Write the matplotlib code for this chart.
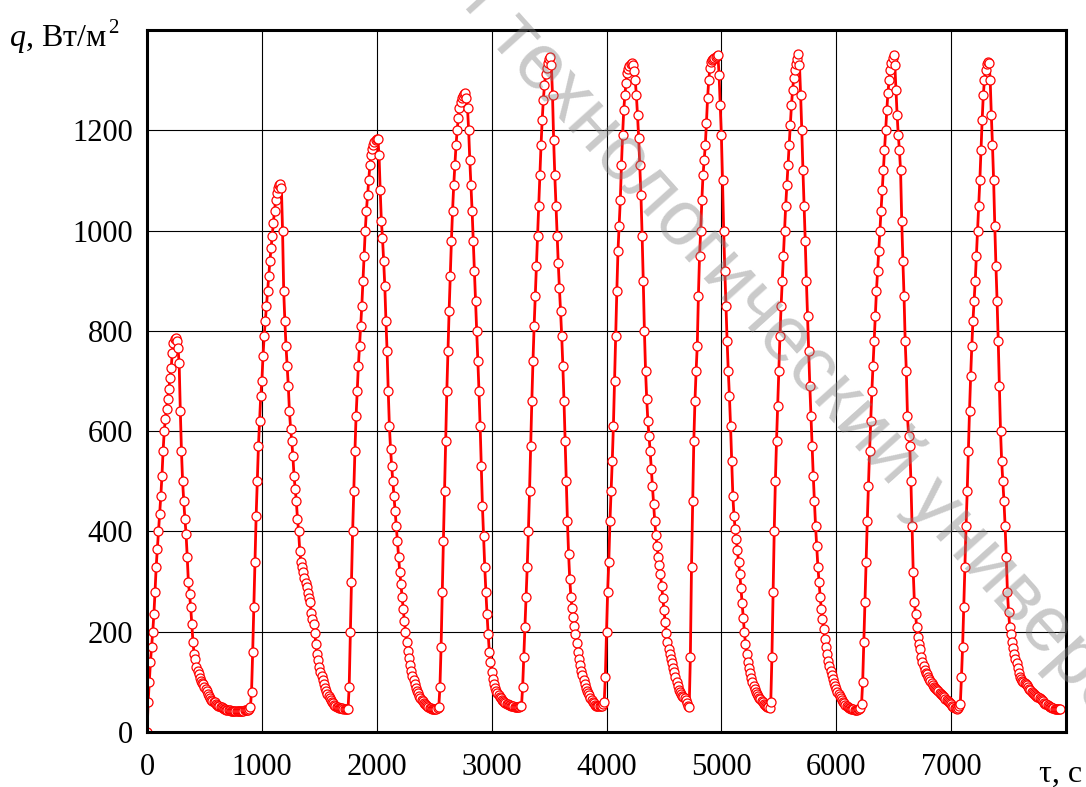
import numpy as np
import matplotlib
matplotlib.use("Agg")
import matplotlib.pyplot as plt

# Heat flux q (W/m^2) sampled every dt seconds; one list per heating cycle
dt = 10
cycle_start = [0, 900, 1750, 2540, 3260, 3980, 4720, 5430, 6220, 7080]

cycle_1 = [0, 60, 100, 140, 170, 200, 235, 280, 330, 365, 400, 435, 470, 510, 560,
           600, 625, 645, 665, 685, 705, 725, 755, 775, 783, 786, 780,
           765, 735, 640, 560, 500, 460, 425, 395, 350, 300, 275, 250, 215, 180,
           155, 145, 130, 122, 115, 108, 102, 98, 95, 90, 86, 82, 76, 72, 68, 64,
           62, 60, 59, 56, 54, 52, 51, 50, 49, 47, 46, 45, 44, 43,
           43, 43, 42, 42, 42, 42, 42, 42, 42, 42, 42, 42, 42, 42, 43, 43, 43, 44, 45]
cycle_2 = [50, 80, 160, 250, 340, 430, 500, 570, 620, 670, 700, 750, 790, 820, 850,
           880, 910, 940, 965, 990, 1015, 1040, 1060, 1075, 1085, 1090, 1092, 1085,
           1000, 880, 820, 770, 730, 690, 640, 605, 580, 550, 510, 485, 460, 425,
           400, 360, 340, 330, 320, 308, 297, 290, 278, 268, 259, 238, 225, 215,
           198, 175, 155, 143, 130, 120, 112, 103, 95, 88, 82, 76, 71, 67, 63, 60,
           57, 54, 52, 50, 49, 48, 48, 47, 47, 46, 46, 46, 46]
cycle_3 = [46, 90, 200, 300, 400, 480, 560, 630, 680, 730, 770, 810, 850, 900, 950,
           1000, 1040, 1070, 1100, 1130, 1150, 1162, 1170, 1176, 1180, 1182, 1182,
           1150, 1080, 1020, 985, 940, 890, 820, 760, 680, 610, 565, 530, 500, 470,
           440, 410, 380, 350, 320, 295, 270, 245, 222, 200, 180, 162, 147, 134,
           122, 112, 103, 95, 88, 82, 77, 72, 68, 64, 61, 58, 55, 53, 51, 49, 48,
           47, 46, 45, 45, 45, 46, 48]
cycle_4 = [50, 90, 170, 280, 380, 480, 580, 680, 760, 840, 910, 980, 1040, 1090,
           1130, 1170, 1200, 1225, 1245, 1256, 1264, 1268, 1272, 1274,
           1265, 1245, 1200, 1140, 1090, 1040, 980, 920, 860, 800, 740, 680, 610,
           530, 450, 390, 330, 280, 235, 195, 160, 140, 120, 105, 95, 88, 82, 77,
           73, 70, 67, 64, 62, 60, 58, 56, 55, 54, 53, 52, 51, 51, 50, 50, 50, 50,
           50, 51]
cycle_5 = [52, 90, 150, 210, 270, 330, 400, 480, 570, 660, 740, 810, 870, 930, 990,
           1050, 1110, 1170, 1220, 1260, 1290, 1312, 1325, 1335, 1342, 1346,
           1330, 1270, 1180, 1110, 1050, 990, 935, 885, 840, 790, 730, 660, 580,
           500, 420, 355, 305, 270, 248, 230, 212, 195, 178, 160, 145, 133, 122,
           113, 104, 95, 88, 82, 77, 73, 68, 64, 60, 57, 54, 52, 51, 51, 51, 51,
           52, 55]
cycle_6 = [60, 110, 200, 280, 340, 420, 480, 540, 610, 700, 790, 880, 960, 1010,
           1060, 1130, 1190, 1240, 1270, 1295, 1315, 1322, 1328, 1332, 1335,
           1330, 1318, 1300, 1270, 1230, 1185, 1130, 1070, 990, 900, 800, 720, 665,
           620, 590, 560, 525, 490, 455, 420, 392, 370, 350, 333, 315, 292, 268,
           243, 220, 198, 180, 165, 155, 146, 137, 128, 119, 110, 100, 91, 84, 79,
           75, 72, 70, 67, 63, 58, 52]
cycle_7 = [50, 150, 330, 460, 580, 660, 720, 770, 870, 950, 1000, 1060, 1110, 1140,
           1170, 1215, 1265, 1300, 1325, 1336, 1340, 1342, 1345, 1347, 1349, 1350,
           1310, 1250, 1190, 1100, 1000, 920, 850, 780, 720, 670, 610, 540, 470,
           430, 405, 385, 362, 340, 315, 288, 258, 228, 200, 176, 156, 140, 128,
           118, 108, 100, 92, 86, 80, 75, 71, 68, 65, 62, 59, 56, 54, 52, 50, 49, 48]
cycle_8 = [60, 150, 280, 400, 500, 580, 650, 720, 790, 850, 900, 950, 1000, 1050,
           1090, 1130, 1170, 1210, 1250, 1280, 1305, 1320, 1332, 1342, 1352,
           1330, 1270, 1200, 1120, 1050, 980, 900, 830, 760, 690, 630, 570, 510,
           460, 410, 370, 330, 300, 270, 245, 225, 205, 185, 170, 155, 142, 132,
           122, 113, 105, 98, 92, 86, 80, 75, 71, 67, 63, 60, 57, 54, 52, 50, 48,
           47, 46, 45, 45, 44, 44, 44, 45, 46, 48]
cycle_9 = [55, 100, 180, 260, 340, 420, 490, 560, 620, 680, 730, 780, 830, 880, 920,
           960, 1000, 1040, 1080, 1120, 1160, 1200, 1240, 1275, 1300, 1320, 1335,
           1345, 1350,
           1330, 1280, 1230, 1190, 1160, 1120, 1020, 940, 870, 780, 720, 630, 590,
           570, 500, 410, 320, 260, 235, 210, 190, 175, 165, 150, 140, 132, 124,
           118, 116, 110, 105, 102, 97, 93, 90, 87, 85, 83, 81, 78, 75, 73, 71, 69,
           66, 63, 61, 60, 57, 55, 52, 50, 48, 47, 46, 48, 52]
cycle_10 = [56, 110, 170, 250, 330, 410, 480, 560, 640, 710, 770, 820, 860, 900,
            950, 1000, 1050, 1100, 1160, 1220, 1270, 1300, 1320, 1332, 1337, 1335,
            1300, 1230, 1170, 1100, 1010, 930, 860, 780, 690, 600, 540, 500, 460,
            410, 350, 280, 240, 210, 195, 180, 168, 156, 145, 138, 128, 118, 110,
            105, 102, 100, 98, 96, 94, 90, 86, 83, 80, 78, 76, 74, 72, 70, 69, 68,
            66, 64, 61, 58, 56, 55, 53, 51, 50, 49, 48, 47, 46, 46, 46, 46, 46, 46]

cycles = [cycle_1, cycle_2, cycle_3, cycle_4, cycle_5,
          cycle_6, cycle_7, cycle_8, cycle_9, cycle_10]

x_ticks = [0, 1000, 2000, 3000, 4000, 5000, 6000, 7000]
y_ticks = [0, 200, 400, 600, 800, 1000, 1200]

tau = np.concatenate([s + dt * np.arange(len(c)) for s, c in zip(cycle_start, cycles)])
q = np.concatenate([np.asarray(c, dtype=float) for c in cycles])

plt.rcParams["font.family"] = ["Liberation Serif", "DejaVu Serif"]
plt.rcParams["mathtext.fontset"] = "custom"
plt.rcParams["mathtext.rm"] = "Liberation Serif"
plt.rcParams["mathtext.it"] = "Liberation Serif:italic"

W, H = 1086, 787
fig = plt.figure(figsize=(W / 100, H / 100), dpi=100)
ax = fig.add_axes([147 / W, 1 - 732 / H, (1066 - 147) / W, (732 - 30) / H])

ax.set_xlim(0, 8000)
ax.set_ylim(0, 1400)
ax.set_xticks(x_ticks)
ax.set_yticks(y_ticks)
ax.tick_params(axis="both", length=0, labelsize=22, colors="black")
ax.tick_params(axis="x", pad=15)
ax.tick_params(axis="y", pad=10)
ax.grid(True, color="black", linewidth=0.8)
ax.set_axisbelow(True)
for sp in ax.spines.values():
    sp.set_linewidth(2.2)
    sp.set_zorder(5)

ax.plot(tau, q, color="#ff0000", linewidth=2.0, marker="o", markersize=6.5,
        markerfacecolor="white", markeredgecolor="#ff0000", markeredgewidth=0.9,
        zorder=3, clip_on=True)

# axis captions
ylab = fig.text(9 / W, 1 - 46 / H, r"$q$, Вт/м", fontsize=23, ha="left", va="baseline")
fig.canvas.draw()
bb = ylab.get_window_extent()
fig.text(bb.x1 / W + 1 / W, 1 - 33 / H, "2", fontsize=15, ha="left", va="baseline")
fig.text(1082 / W, 1 - 782 / H, "τ, с", fontsize=23, ha="right", va="baseline")

# diagonal watermark
wm = dict(fontsize=56, color="0.5", alpha=0.42, rotation=-48, rotation_mode="anchor",
          family=["Liberation Sans", "DejaVu Sans"], va="baseline", zorder=10)
fig.text(472 / W, 1 - 22 / H, "исследовательский", ha="right", **wm)
fig.text(487 / W, 1 - 38 / H, "технологический университет", ha="left", **wm)

fig.savefig("out.png", dpi=100)
